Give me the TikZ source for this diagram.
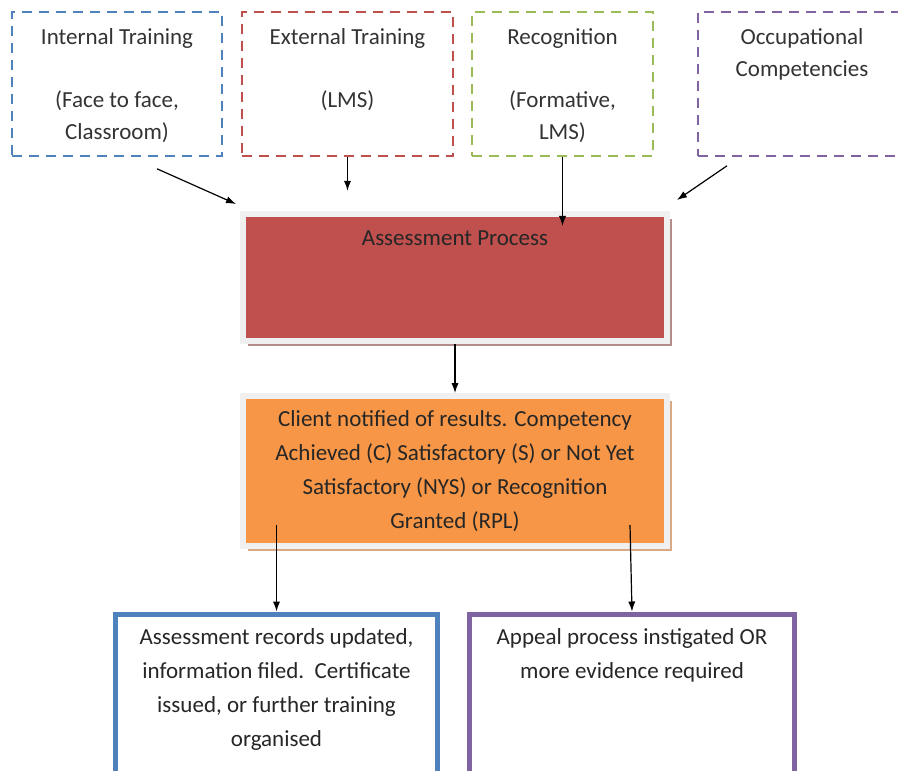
\documentclass[tikz,border=0pt]{standalone}
\usepackage{fontspec}
\setmainfont{Carlito}
\usetikzlibrary{arrows.meta,positioning,calc,shadows}

\definecolor{lineblue}{HTML}{4F81BD}
\definecolor{linered}{HTML}{C0504D}
\definecolor{linegreen}{HTML}{9BBB59}
\definecolor{linepurple}{HTML}{8064A2}
\definecolor{procfill}{HTML}{C0504D}
\definecolor{procshade}{HTML}{B48C8C}
\definecolor{notefill}{HTML}{F79646}
\definecolor{noteshade}{HTML}{D9AA85}

\tikzset{
dashbox/.style = {draw=#1, dash pattern=on 5pt off 3.5pt, line width=0.8pt,
                  minimum height=72pt, inner sep=0pt},
boxtext/.style = {align=center, inner sep=0pt, text=black!80,
                  font=\fontsize{11.5}{15.75}\selectfont},
stage/.style = {fill=#1, draw=black!6, line width=3pt, minimum width=212pt,
                inner sep=0pt, align=center, text=black!85,
                font=\fontsize{11.5}{17}\selectfont},
outcome/.style = {draw=#1, line width=2.5pt, minimum height=88pt, inner sep=0pt},
outtext/.style = {align=center, inner sep=0pt, text=black!85,
                  font=\fontsize{11.5}{17}\selectfont},
arr/.style = {-{Latex[length=5pt,width=3.6pt]}, line width=0.6pt}
}

\begin{document}
\begin{tikzpicture}[x=0.5pt, y=-0.5pt]
        \useasboundingbox (0,0) rectangle (898,770);
        \clip (0,0) rectangle (898,770);

        % sources
        \node[dashbox=lineblue, minimum width=105pt] (intbox) at (117,84) {};
        \node[dashbox=linered, minimum width=105.5pt] (extbox) at (347.5,84) {};
        \node[dashbox=linegreen, minimum width=90.5pt] (recogbox) at (562.5,84) {};
        \node[dashbox=linepurple, minimum width=104pt] (occbox) at (802,84) {};

        \node[boxtext, below=8.5pt of intbox.north] (inttext) {Internal Training\\[15.75pt](Face to face,\\Classroom)};
        \node[boxtext, below=8.5pt of extbox.north] (exttext) {External Training\\[15.75pt](LMS)};
        \node[boxtext, below=8.5pt of recogbox.north] (recogtext) {Recognition\\[15.75pt](Formative,\\LMS)};
        \node[boxtext, below=8.5pt of occbox.north] (occtext) {Occupational\\Competencies};

        % assessment and results
        \node[stage=procfill, minimum height=63.5pt,
              drop shadow={shadow xshift=2.5pt, shadow yshift=-2.5pt, fill=procshade, opacity=1}]
              (proc) at (455,277.5) {};
        \node[outtext, below=9.5pt of proc.north] (proctext) {Assessment Process};
        \node[stage=notefill, minimum height=75pt, below=24.5pt of proc,
              drop shadow={shadow xshift=2.5pt, shadow yshift=-2.5pt, fill=noteshade, opacity=1}]
              (notice) {Client notified of results. Competency\\Achieved (C) Satisfactory (S) or Not Yet\\Satisfactory (NYS) or Recognition\\Granted (RPL)};

        % outcomes
        \node[outcome=lineblue, minimum width=161pt] (recordbox) at (276.5,702) {};
        \node[outcome=linepurple, minimum width=162.5pt] (appealbox) at (632,702) {};
        \node[outtext, below=8.5pt of recordbox.north] (recordtext) {Assessment records updated,\\information filed.\ \ Certificate\\issued, or further training\\organised};
        \node[outtext, below=8.5pt of appealbox.north] (appealtext) {Appeal process instigated OR\\more evidence required};

        \draw[arr] ([shift={(40,12)}]intbox.south) -- ([shift={(-4,-7)}]proc.north west);
        \draw[arr] (extbox.south) -- ([shift={(0,34)}]extbox.south);
        \draw[arr] (recogbox.south) -- ($(recogbox.south |- proc.north)+(0,15)$);
        \draw[arr] ([shift={(-75,9)}]occbox.south) -- ([shift={(7,-11)}]proc.north east);
        \draw[arr] (proc) -- (notice);
        \draw[arr] ($(recordbox.north |- notice.south)+(0,-24)$) -- (recordbox.north);
        \draw[arr] ($(appealbox.north |- notice.south)+(-2,-24)$) -- (appealbox.north);
\end{tikzpicture}
\end{document}
